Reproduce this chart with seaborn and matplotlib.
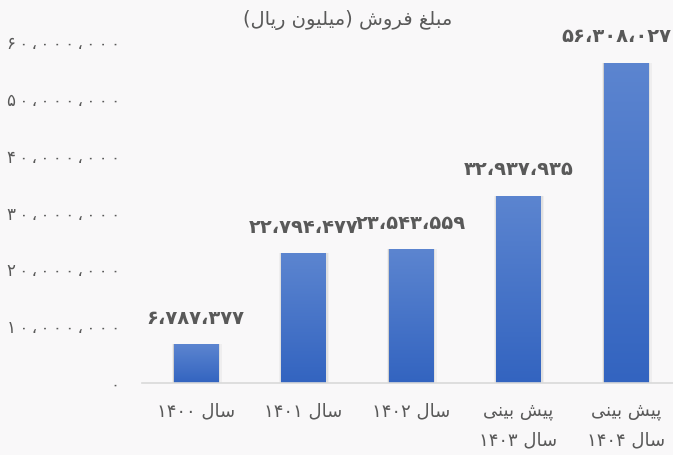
import re
import numpy as np
import pandas as pd
import matplotlib
matplotlib.use("Agg")
import matplotlib.pyplot as plt
import seaborn as sns
from matplotlib.colors import LinearSegmentedColormap

# ---------------- data ----------------
categories = [["سال ۱۴۰۰"], ["سال ۱۴۰۱"], ["سال ۱۴۰۲"],
              ["پیش بینی", "سال ۱۴۰۳"], ["پیش بینی", "سال ۱۴۰۴"]]
sales = [6787377, 22794477, 23543559, 32937935, 56308027]
title_text = "مبلغ فروش (میلیون ریال)"
yticks = [0, 10000000, 20000000, 30000000, 40000000, 50000000, 60000000]

# ---------------- minimal Persian shaping ----------------
FORMS = {
    'ا': ('\uFE8D', '\uFE8E', None, None),
    'ب': ('\uFE8F', '\uFE90', '\uFE91', '\uFE92'),
    'پ': ('\uFB56', '\uFB57', '\uFB58', '\uFB59'),
    'ر': ('\uFEAD', '\uFEAE', None, None),
    'س': ('\uFEB1', '\uFEB2', '\uFEB3', '\uFEB4'),
    'ش': ('\uFEB5', '\uFEB6', '\uFEB7', '\uFEB8'),
    'غ': ('\uFECD', '\uFECE', '\uFECF', '\uFED0'),
    'ف': ('\uFED1', '\uFED2', '\uFED3', '\uFED4'),
    'ل': ('\uFEDD', '\uFEDE', '\uFEDF', '\uFEE0'),
    'م': ('\uFEE1', '\uFEE2', '\uFEE3', '\uFEE4'),
    'ن': ('\uFEE5', '\uFEE6', '\uFEE7', '\uFEE8'),
    'و': ('\uFEED', '\uFEEE', None, None),
    'ی': ('\uFBFC', '\uFBFD', '\uFBFE', '\uFBFF'),
}


def shape(s):
    out = []
    for i, c in enumerate(s):
        if c not in FORMS:
            out.append(c)
            continue
        prev = i > 0 and s[i - 1] in FORMS and FORMS[s[i - 1]][2] is not None
        nxt = FORMS[c][2] is not None and i + 1 < len(s) and s[i + 1] in FORMS
        iso, fin, ini, med = FORMS[c]
        if prev and nxt:
            out.append(med)
        elif prev:
            out.append(fin)
        elif nxt:
            out.append(ini)
        else:
            out.append(iso)
    vis = ''.join(out)[::-1]
    vis = re.sub(r'[۰-۹0-9][۰-۹0-9،,]*', lambda m: m.group(0)[::-1], vis)
    vis = vis.translate(str.maketrans({'(': ')', ')': '('}))
    return vis


def fa_num(n, spaced=False):
    s = f"{n:,}"
    s = s.translate(str.maketrans("0123456789,", "۰۱۲۳۴۵۶۷۸۹،"))
    if spaced:
        s = '\u2009'.join(s)
    return s


labels = ["\n".join(shape(line) for line in cat) for cat in categories]
df = pd.DataFrame({"cat": labels, "sales": sales})

# ---------------- figure ----------------
sns.set_theme(style="white")
plt.rcParams['font.family'] = ['DejaVu Sans']
bg = '#f9f8f9'
txt = '#595959'

fig = plt.figure(figsize=(6.73, 4.55), dpi=100, facecolor=bg)
ax = fig.add_axes([142 / 673, 72 / 455, 537.5 / 673, 341 / 455])
ax.set_facecolor(bg)

sns.barplot(data=df, x="cat", y="sales", ax=ax, width=0.41,
            color='#4472c4', saturation=1)

cmap = LinearSegmentedColormap.from_list("g", ['#3364c0', '#5c85d0'])
grad = np.linspace(0, 1, 256).reshape(-1, 1)
for p in list(ax.patches):
    x0, y0 = p.get_x(), p.get_y()
    w, h = p.get_width(), p.get_height()
    # soft shadow
    for k, a in [(0.06, 0.04), (0.035, 0.06), (0.015, 0.08)]:
        sh = plt.Rectangle((x0 - k * 0.3, y0), w + k * 0.9, h,
                           facecolor='black', alpha=a, edgecolor='none',
                           zorder=0.5)
        ax.add_patch(sh)
    im = ax.imshow(grad, extent=[x0, x0 + w, y0, y0 + h], origin='lower',
                   cmap=cmap, aspect='auto', zorder=2)
    im.set_clip_path(p)
    p.set_facecolor('none')
    p.set_edgecolor('none')
ax.set_xlim(-0.5, 4.5)
ax.set_ylim(0, 60000000)

anns = []
for i, v in enumerate(sales):
    a = ax.annotate(fa_num(v), xy=(i, v), xytext=(0, 12), textcoords='offset points',
                    ha='center', va='bottom', fontsize=14, fontweight='bold',
                    color=txt, annotation_clip=False)
    anns.append(a)

ax.set_yticks(yticks)
ax.set_yticklabels([fa_num(t, spaced=True) for t in yticks], color=txt,
                   fontsize=12)
ax.tick_params(axis='y', length=0, pad=16)
ax.tick_params(axis='x', length=0, pad=14, labelsize=13, labelcolor=txt)
for t in ax.get_xticklabels():
    t.set_linespacing(1.8)
ax.set_xlabel("")
ax.set_ylabel("")
for s in ['top', 'right', 'left']:
    ax.spines[s].set_visible(False)
ax.spines['bottom'].set_color('#d9d9d9')
ax.spines['bottom'].set_linewidth(1.2)

fig.text(348 / 673, 1 - 20 / 455, shape(title_text), ha='center', va='center',
         fontsize=14, color=txt)

# keep value labels inside the figure
fig.canvas.draw()
r = fig.canvas.get_renderer()
for a in anns:
    bb = a.get_window_extent(r)
    over = bb.x1 - (fig.bbox.width - 2)
    if over > 0:
        a.xyann = (a.xyann[0] - over * 72 / fig.dpi, a.xyann[1])

fig.savefig("out.png", dpi=100, facecolor=bg)
